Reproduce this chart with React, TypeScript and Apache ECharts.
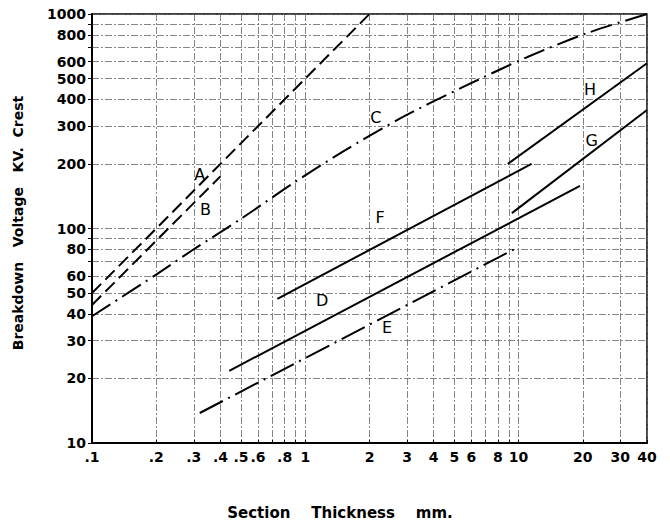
import React, { useEffect, useRef } from "react";
import * as echarts from "echarts";

// gridline values and tick labels
const X_GRID = [0.1, 0.2, 0.3, 0.4, 0.5, 0.6, 0.7, 0.8, 0.9, 1, 2, 3, 4, 5, 6, 7, 8, 9, 10, 20, 30, 40];
const X_LABELS = [0.1, 0.2, 0.3, 0.4, 0.5, 0.6, 0.8, 1, 2, 3, 4, 5, 6, 8, 10, 20, 30, 40];
const Y_GRID = [10, 20, 30, 40, 50, 60, 70, 80, 90, 100, 200, 300, 400, 500, 600, 700, 800, 900, 1000];
const Y_LABELS = [10, 20, 30, 40, 50, 60, 80, 100, 200, 300, 400, 500, 600, 800, 1000];

// curves: [thickness mm, breakdown kV crest]
const lineA = [[0.1, 50], [2, 1000]];
const lineB = [[0.1, 44], [0.4, 175]];
const lineC = [[0.1, 39], [0.2, 61], [0.3, 80], [0.5, 111], [0.88, 163], [1.5, 228], [2.8, 327], [5.5, 457], [11, 630], [21, 815], [40, 1000]];
const lineD = [[0.44, 21.7], [19.4, 158]];
const lineE = [[0.32, 13.8], [10, 82]];
const lineF = [[0.74, 47], [11.5, 200]];
const lineG = [[9.3, 118], [40, 357]];
const lineH = [[8.9, 200], [40, 589]];

// curve letter labels: [name, thickness, kV]
const curveLabels: [string, number, number][] = [
  ["A", 0.32, 179],
  ["B", 0.34, 122],
  ["C", 2.14, 330],
  ["D", 1.2, 46],
  ["E", 2.42, 34.4],
  ["F", 2.24, 113],
  ["G", 22, 256],
  ["H", 21.6, 443],
];

const FONT = "DejaVu Sans";

const fmtX = (v: number) => {
  const s = String(Math.round(v * 10) / 10);
  return s.startsWith("0.") ? s.slice(1) : s;
};

export default function App() {
  const ref = useRef<HTMLDivElement>(null);
  useEffect(() => {
    document.body.style.margin = "0";
    const chart = echarts.init(ref.current!, null, { renderer: "svg" });
    const gridLine = { show: true, lineStyle: { color: "#666", width: 0.8, type: [7, 2, 2, 2] as any } };
    const mkLine = (name: string, data: number[][], type: any, smooth = false) => ({
      name,
      type: "line",
      data,
      symbol: "none",
      smooth: smooth ? 0.3 : false,
      lineStyle: { color: "#000", width: 2, type },
      z: 5,
    });
    chart.setOption({
      animation: false,
      backgroundColor: "#fff",
      grid: {
        left: 92,
        right: 23,
        top: 14,
        bottom: 80,
        show: true,
        borderColor: "#000",
        borderWidth: 1.5,
        backgroundColor: "transparent",
      },
      xAxis: {
        type: "log",
        logBase: 10,
        min: 0.1,
        max: 40,
        axisLine: { show: true, lineStyle: { color: "#000", width: 2 } },
        axisTick: { show: true, inside: true, length: 3, customValues: X_GRID, lineStyle: { color: "#000" } },
        axisLabel: {
          customValues: X_LABELS,
          formatter: (v: number) => fmtX(v),
          color: "#000",
          fontFamily: FONT,
          fontSize: 14,
          fontWeight: "bold",
          margin: 7,
        },
        splitLine: gridLine,
        minorTick: { show: false },
      },
      yAxis: {
        type: "log",
        logBase: 10,
        min: 10,
        max: 1000,
        axisLine: { show: true, lineStyle: { color: "#000", width: 2 } },
        axisTick: { show: true, inside: false, length: 4, customValues: Y_GRID, lineStyle: { color: "#000" } },
        axisLabel: {
          customValues: Y_LABELS,
          formatter: (v: number) => String(Math.round(v)),
          color: "#000",
          fontFamily: FONT,
          fontSize: 14,
          fontWeight: "bold",
          margin: 6,
        },
        splitLine: gridLine,
      },
      series: [
        mkLine("A", lineA, [13, 6]),
        mkLine("B", lineB, [13, 6]),
        mkLine("C", lineC, [22, 6, 2, 6], true),
        mkLine("D", lineD, "solid"),
        mkLine("E", lineE, [26, 6, 2, 6]),
        mkLine("F", lineF, "solid"),
        mkLine("G", lineG, "solid"),
        mkLine("H", lineH, "solid"),
        {
          type: "scatter",
          symbolSize: 1,
          itemStyle: { color: "#fff", opacity: 0 },
          data: curveLabels.map(([n, x, y]) => ({ name: n, value: [x, y] })),
          label: {
            show: true,
            position: "inside",
            formatter: (p: any) => p.name,
            color: "#000",
            fontFamily: FONT,
            fontSize: 16,
            opacity: 1,
          },
          z: 6,
        },
      ],
      graphic: [
        {
          type: "text",
          x: 18,
          y: 223,
          rotation: Math.PI / 2,
          style: {
            text: "Breakdown   Voltage   KV.  Crest",
            fontFamily: FONT,
            fontSize: 14,
            fontWeight: "bold",
            fill: "#000",
            textAlign: "center",
            textVerticalAlign: "middle",
          },
        },
        {
          type: "text",
          x: 340,
          y: 513,
          style: {
            text: "Section    Thickness    mm.",
            fontFamily: FONT,
            fontSize: 15,
            fontWeight: "bold",
            fill: "#000",
            textAlign: "center",
            textVerticalAlign: "middle",
          },
        },
      ],
    });
    return () => chart.dispose();
  }, []);
  return <div ref={ref} style={{ width: 670, height: 523 }} />;
}
